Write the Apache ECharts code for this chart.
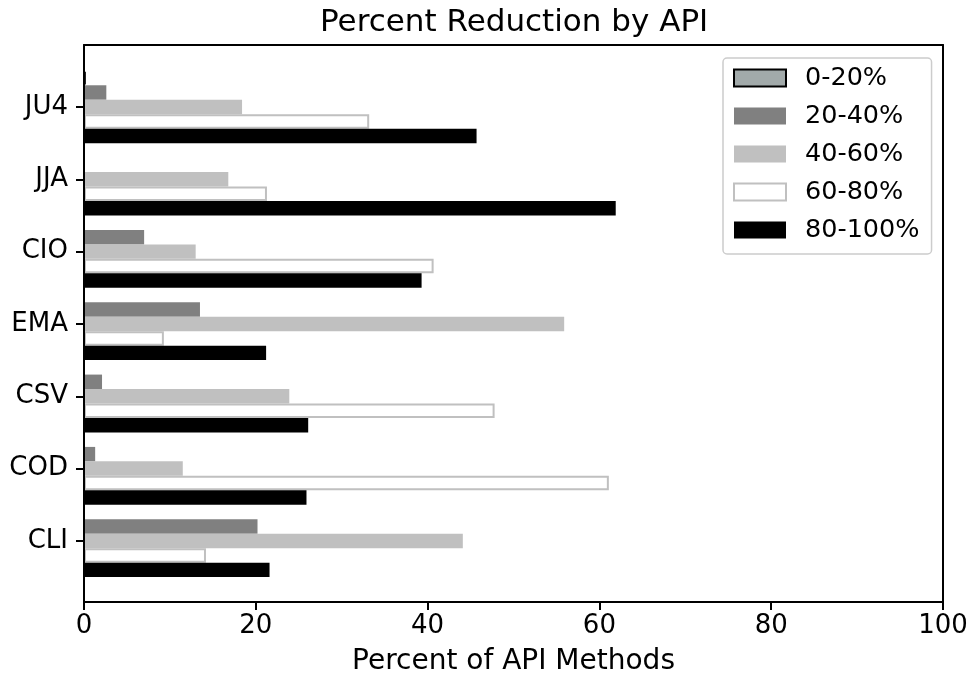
<!DOCTYPE html>
<html>
<head>
<meta charset="utf-8">
<script src="https://cdn.jsdelivr.net/npm/echarts@6/dist/echarts.min.js"></script>
<style>html,body{margin:0;padding:0;background:#fff}#c{width:972px;height:681px}</style>
</head>
<body>
<div id="c"></div>
<script>
const categories = ['JU4', 'JJA', 'CIO', 'EMA', 'CSV', 'COD', 'CLI'];
const seriesNames = ['0-20%', '20-40%', '40-60%', '60-80%', '80-100%'];
const v0_20   = [0.2, 0, 0, 0, 0, 0, 0];
const v20_40  = [2.6, 0, 7.0, 13.5, 2.1, 1.3, 20.2];
const v40_60  = [18.4, 16.8, 13.0, 55.9, 23.9, 11.5, 44.1];
const v60_80  = [33.2, 21.3, 40.7, 9.3, 47.8, 61.1, 14.2];
const v80_100 = [45.7, 61.9, 39.3, 21.2, 26.1, 25.9, 21.6];
const xTicks = [0, 20, 40, 60, 80, 100];

const FONT = 'DejaVu Sans';
const styles = [
  {color: '#a2aaaa', borderColor: '#000', borderWidth: 2},
  {color: '#808080', borderWidth: 0},
  {color: '#c0c0c0', borderWidth: 0},
  {color: '#ffffff', borderColor: '#c0c0c0', borderWidth: 2},
  {color: '#000000', borderWidth: 0}
];
const values = [v0_20, v20_40, v40_60, v60_80, v80_100];

const chart = echarts.init(document.getElementById('c'), null, {renderer: 'canvas'});
const option = {
  backgroundColor: '#fff',
  animation: false,
  title: {
    text: 'Percent Reduction by API', left: 315, top: 2,
    textStyle: {fontFamily: FONT, fontSize: 31, fontWeight: 'normal', color: '#000'}
  },
  legend: {
    orient: 'vertical', left: 723, top: 58,
    padding: [5, 12, 9, 10],
    itemWidth: 52, itemHeight: 17, itemGap: 8, icon: 'rect',
    backgroundColor: '#fff', borderColor: '#cccccc', borderWidth: 1.5, borderRadius: 4,
    textStyle: {fontFamily: FONT, fontSize: 25.5, lineHeight: 30, color: '#000', padding: [0, 0, 0, 14]},
    data: seriesNames, z: 20
  },
  grid: [
    {left: 84, width: 859, top: 70.8, height: 506.3},
    {left: 84, width: 859, top: 45, height: 559}
  ],
  xAxis: [
    {gridIndex: 0, type: 'value', min: 0, max: 100, show: false},
    {gridIndex: 1, type: 'value', min: 0, max: 100, interval: 20, z: 10,
     axisLine: {show: true, onZero: false, lineStyle: {color: '#000', width: 2}},
     axisTick: {show: true, length: 8, lineStyle: {color: '#000', width: 2}},
     axisLabel: {fontFamily: FONT, fontSize: 26, color: '#000', margin: 11,
       formatter: v => xTicks.includes(v) ? String(v) : ''},
     splitLine: {show: false},
     name: 'Percent of API Methods', nameLocation: 'middle', nameGap: 46,
     nameTextStyle: {fontFamily: FONT, fontSize: 28, color: '#000'}},
    {gridIndex: 1, type: 'value', min: 0, max: 100, position: 'top', z: 10,
     axisLine: {show: true, onZero: false, lineStyle: {color: '#000', width: 2}},
     axisTick: {show: false}, axisLabel: {show: false}, splitLine: {show: false}}
  ],
  yAxis: [
    {gridIndex: 0, type: 'category', data: categories, inverse: true,
     axisLine: {show: false},
     axisTick: {show: true, alignWithLabel: true, length: 8, lineStyle: {color: '#000', width: 2}},
     axisLabel: {fontFamily: FONT, fontSize: 26, color: '#000', margin: 16},
     splitLine: {show: false}},
    {gridIndex: 1, type: 'value', min: 0, max: 1, position: 'left', z: 10,
     axisLine: {show: true, onZero: false, lineStyle: {color: '#000', width: 2}},
     axisTick: {show: false}, axisLabel: {show: false}, splitLine: {show: false}},
    {gridIndex: 1, type: 'value', min: 0, max: 1, position: 'right', z: 10,
     axisLine: {show: true, onZero: false, lineStyle: {color: '#000', width: 2}},
     axisTick: {show: false}, axisLabel: {show: false}, splitLine: {show: false}}
  ],
  series: seriesNames.map((n, i) => ({
    name: n, type: 'bar', xAxisIndex: 0, yAxisIndex: 0,
    data: values[i], barGap: '0%', barCategoryGap: '0%',
    itemStyle: styles[i], z: 2
  }))
};
chart.setOption(option);
</script>
</body>
</html>
